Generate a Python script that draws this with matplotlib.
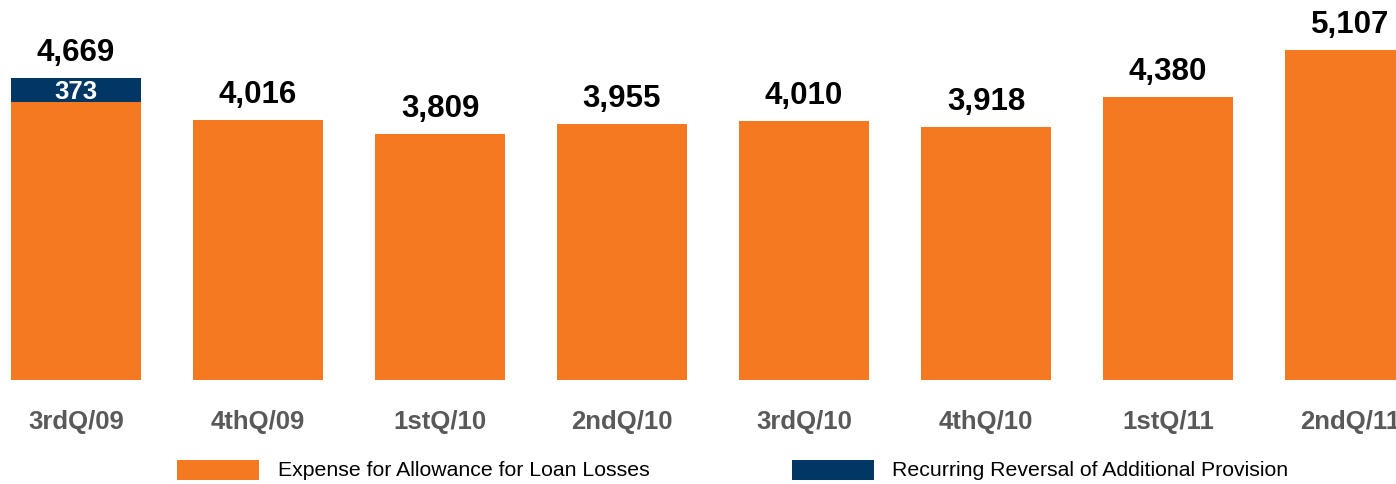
import matplotlib
matplotlib.use("Agg")
import matplotlib.pyplot as plt
from matplotlib.patches import Rectangle

plt.rcParams['font.family'] = ['Liberation Sans', 'DejaVu Sans']

categories = ["3rdQ/09", "4thQ/09", "1stQ/10", "2ndQ/10", "3rdQ/10", "4thQ/10", "1stQ/11", "2ndQ/11"]
expense = [4296, 4016, 3809, 3955, 4010, 3918, 4380, 5107]
reversal = [373, 0, 0, 0, 0, 0, 0, 0]
totals = [4669, 4016, 3809, 3955, 4010, 3918, 4380, 5107]
series_names = ["Expense for Allowance for Loan Losses", "Recurring Reversal of Additional Provision"]

ORANGE = "#F47920"
NAVY = "#003764"
GRAY = "#595959"

W, H = 1396, 485
dpi = 100
fig = plt.figure(figsize=(W / dpi, H / dpi), dpi=dpi)
# axes: baseline at ~380 px from top, spans to top
ax = fig.add_axes([0, 104 / H, 1, 381 / H])
ax.set_xlim(-76 / 182, (W - 76) / 182)
ax.set_ylim(0, 381 / (302 / 4669))

x = list(range(len(categories)))
ax.bar(x, expense, width=130 / 182, color=ORANGE, linewidth=0)
ax.bar(x, reversal, bottom=expense, width=130 / 182, color=NAVY, linewidth=0)

for i, t in enumerate(totals):
    ax.annotate(f"{t:,}", (i, t), xytext=(0, 13), textcoords="offset points",
                ha="center", va="baseline", fontsize=22.5, fontweight="bold", color="black")
for i, r in enumerate(reversal):
    if r:
        ax.annotate(f"{r:,}", (i, expense[i]), xytext=(0, 3), textcoords="offset points",
                    ha="center", va="baseline", fontsize=18.5, fontweight="bold", color="white")

ax.set_xticks(x)
ax.set_xticklabels(categories, fontsize=18.5, fontweight="bold", color=GRAY)
ax.tick_params(axis="x", length=0, pad=21)
ax.set_yticks([])
for s in ax.spines.values():
    s.set_visible(False)

# legend
def fy(py):
    return 1 - py / H

for (x0, col, name, tx) in [(177, ORANGE, series_names[0], 278), (792, NAVY, series_names[1], 892)]:
    fig.patches.append(Rectangle((x0 / W, fy(481)), 82 / W, 20 / H, transform=fig.transFigure,
                                 facecolor=col, edgecolor="none"))
    fig.text(tx / W, fy(471), name, fontsize=15.3, color="black", ha="left", va="center")

fig.savefig("out.png", dpi=dpi)
